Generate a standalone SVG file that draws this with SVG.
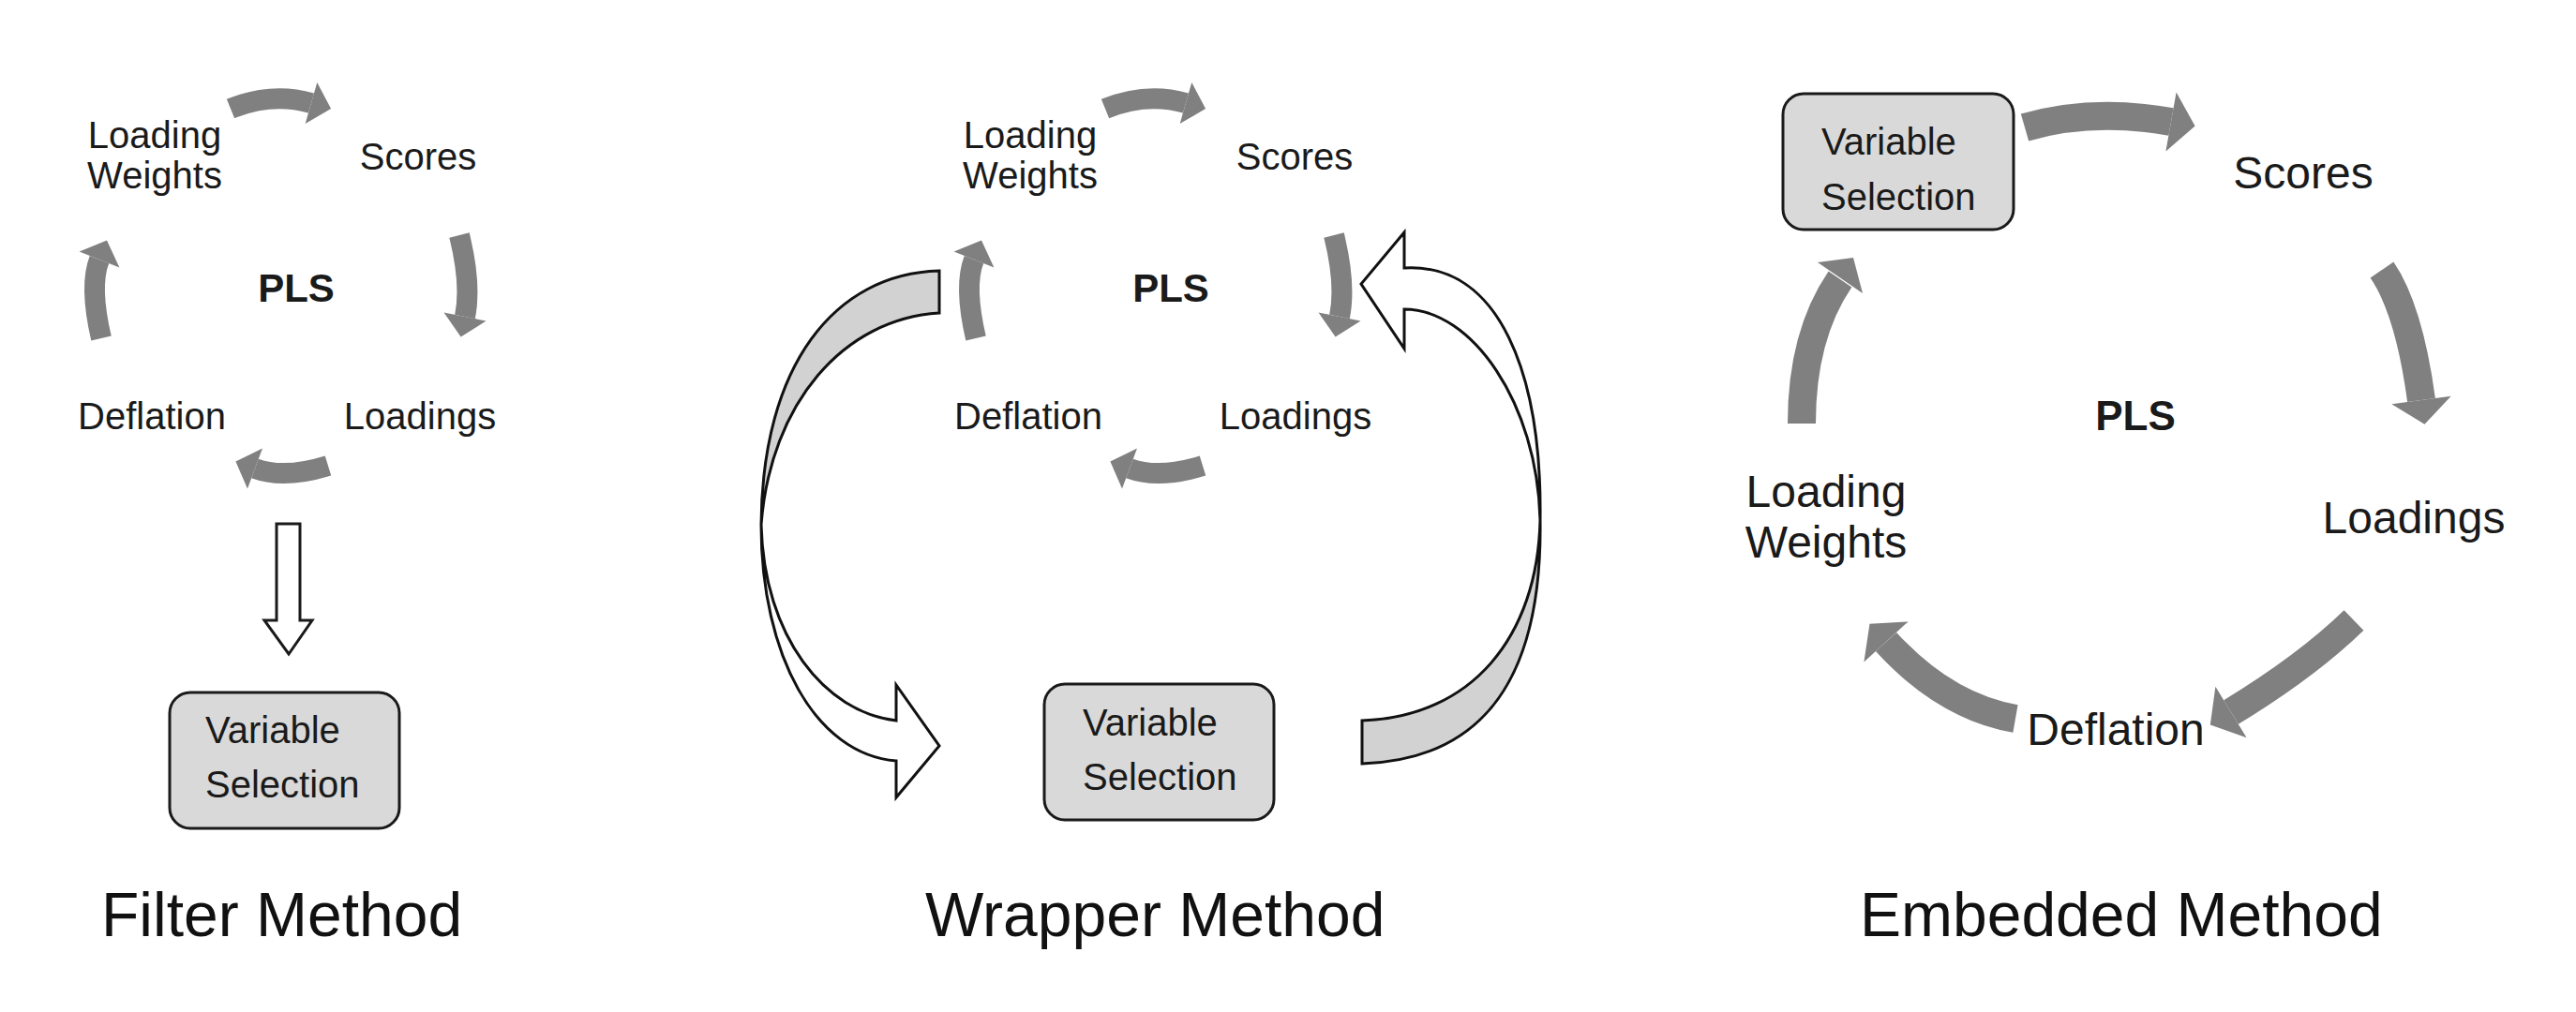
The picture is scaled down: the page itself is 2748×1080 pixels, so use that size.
<svg xmlns="http://www.w3.org/2000/svg" width="2748" height="1080" viewBox="0 0 2748 1080">
<style>
.t{font-family:"Liberation Sans",Arial,sans-serif;font-size:40px;fill:#1a1a1a}
.tm{text-anchor:middle}
.big{font-size:48px}
.pls{font-weight:bold;font-size:42px;text-anchor:middle}
.title{font-family:"Liberation Sans",Arial,sans-serif;font-size:66px;fill:#111}
.box{fill:#d9d9d9;stroke:#1a1a1a;stroke-width:3}
.ga{fill:none;stroke:#808080;stroke-width:22}
.gb{fill:none;stroke:#808080;stroke-width:30}
.gh{fill:#808080}
.rg{fill:#d2d2d2;stroke:#111;stroke-width:3;stroke-linejoin:miter}
.rw{fill:#fff;stroke:#111;stroke-width:3;stroke-linejoin:miter}
</style>
<rect width="2748" height="1080" fill="#fff"/>

<!-- ===== Filter method ===== -->
<g id="filter-loading-weights"><text class="t tm" x="165" y="158">Loading</text><text class="t tm" x="165" y="201">Weights</text></g>
<g id="filter-scores"><text class="t tm" x="446" y="181">Scores</text></g>
<g id="filter-pls"><text class="t pls" x="316" y="322">PLS</text></g>
<g id="filter-deflation"><text class="t tm" x="162" y="458">Deflation</text></g>
<g id="filter-loadings"><text class="t tm" x="448" y="458">Loadings</text></g>
<g id="filter-varsel"><rect class="box" x="181" y="739" width="245" height="145" rx="22"/><text class="t" x="219" y="793">Variable</text><text class="t" x="219" y="851">Selection</text></g>
<g id="filter-title"><text class="title" x="108" y="999">Filter Method</text></g>

<!-- ===== Wrapper method ===== -->
<g id="wrapper-loading-weights"><text class="t tm" x="1099" y="158">Loading</text><text class="t tm" x="1099" y="201">Weights</text></g>
<g id="wrapper-scores"><text class="t tm" x="1381" y="181">Scores</text></g>
<g id="wrapper-pls"><text class="t pls" x="1249" y="322">PLS</text></g>
<g id="wrapper-deflation"><text class="t tm" x="1097" y="458">Deflation</text></g>
<g id="wrapper-loadings"><text class="t tm" x="1382" y="458">Loadings</text></g>
<g id="wrapper-varsel"><rect class="box" x="1114" y="730" width="245" height="145" rx="22"/><text class="t" x="1155" y="785">Variable</text><text class="t" x="1155" y="843">Selection</text></g>
<g id="wrapper-title"><text class="title" x="987" y="999">Wrapper Method</text></g>

<!-- ===== Embedded method ===== -->
<g id="embedded-varsel"><rect class="box" x="1902" y="100" width="246" height="145" rx="22"/><text class="t" x="1943" y="165">Variable</text><text class="t" x="1943" y="224">Selection</text></g>
<g id="embedded-scores"><text class="t tm big" x="2457" y="201">Scores</text></g>
<g id="embedded-pls"><text class="t pls" x="2278" y="459" style="font-size:44px">PLS</text></g>
<g id="embedded-loadings"><text class="t tm big" x="2575" y="569">Loadings</text></g>
<g id="embedded-deflation"><text class="t tm big" x="2257" y="795">Deflation</text></g>
<g id="embedded-loading-weights"><text class="t tm big" x="1948" y="541">Loading</text><text class="t tm big" x="1948" y="595">Weights</text></g>
<g id="embedded-title"><text class="title" x="1984" y="999">Embedded Method</text></g>

<!-- ===== Connectors ===== -->
<g id="connectors">
  <!-- filter cycle -->
  <g id="filter-cycle">
    <path class="ga" d="M246,116 Q290,98 332,110"/>
    <polygon class="gh" points="325.7,132.1 338.3,87.9 353.1,116"/>
    <path class="ga" d="M490,251 Q503,303.5 496,338"/>
    <polygon class="gh" points="518.5,342.6 473.5,333.4 491.6,359.6"/>
    <path class="ga" d="M350,497 Q303,511.5 272,500"/>
    <polygon class="gh" points="280,478.4 264,521.6 251.4,492.4"/>
    <path class="ga" d="M108,361 Q95,305 106,277"/>
    <polygon class="gh" points="127.4,285.4 84.6,268.6 114,256.5"/>
  </g>
  <polygon id="filter-down" points="295,559 320,559 320,662 333,662 308,698 282,662 295,662" fill="#fff" stroke="#1a1a1a" stroke-width="3" stroke-linejoin="miter"/>

  <!-- wrapper cycle -->
  <g id="wrapper-cycle" transform="translate(933,0)">
    <path class="ga" d="M246,116 Q290,98 332,110"/>
    <polygon class="gh" points="325.7,132.1 338.3,87.9 353.1,116"/>
    <path class="ga" d="M490,251 Q503,303.5 496,338"/>
    <polygon class="gh" points="518.5,342.6 473.5,333.4 491.6,359.6"/>
    <path class="ga" d="M350,497 Q303,511.5 272,500"/>
    <polygon class="gh" points="280,478.4 264,521.6 251.4,492.4"/>
    <path class="ga" d="M108,361 Q95,305 106,277"/>
    <polygon class="gh" points="127.4,285.4 84.6,268.6 114,256.5"/>
  </g>
  <!-- wrapper left ribbon: PLS -> variable selection -->
  <g id="wrapper-to-varsel">
    <path class="rg" d="M1002,289 C890,292 813,390 812,560 C822,430 900,340 1002,334 Z"/>
    <path class="rw" d="M812,560 C815,680 880,760 956,769 L956,731 L1002,796 L956,851 L956,812 C870,805 812,700 812,560 Z"/>
  </g>
  <!-- wrapper right ribbon: variable selection -> PLS -->
  <g id="varsel-to-wrapper">
    <path class="rg" d="M1453,815 C1600,810 1645,700 1643,555 C1640,680 1570,765 1453,769 Z"/>
    <path class="rw" d="M1643,555 C1640,430 1570,330 1498,330 L1498,372 L1452,303 L1498,248 L1498,286 C1600,280 1645,400 1643,555 Z"/>
  </g>

  <!-- embedded cycle -->
  <g id="embedded-cycle">
    <path class="gb" d="M2160,136 Q2232,115 2316,130"/>
    <polygon class="gh" points="2310.4,161.5 2321.6,98.5 2341.6,134.6"/>
    <path class="gb" d="M2541,288 Q2570,330.5 2583,427"/>
    <polygon class="gh" points="2614.7,422.7 2551.3,431.3 2586.5,452.8"/>
    <path class="gb" d="M2511,662 Q2460.5,711 2380,760"/>
    <polygon class="gh" points="2396.6,787.3 2363.4,732.7 2357.8,773.5"/>
    <path class="gb" d="M2150,767 Q2075,754 2012,685"/>
    <polygon class="gh" points="1988.4,706.6 2035.6,663.4 1994.5,665.8"/>
    <path class="gb" d="M1922,452 Q1922,358 1963,298"/>
    <polygon class="gh" points="1939,280 1987,313 1977,275"/>
  </g>
</g>
</svg>
